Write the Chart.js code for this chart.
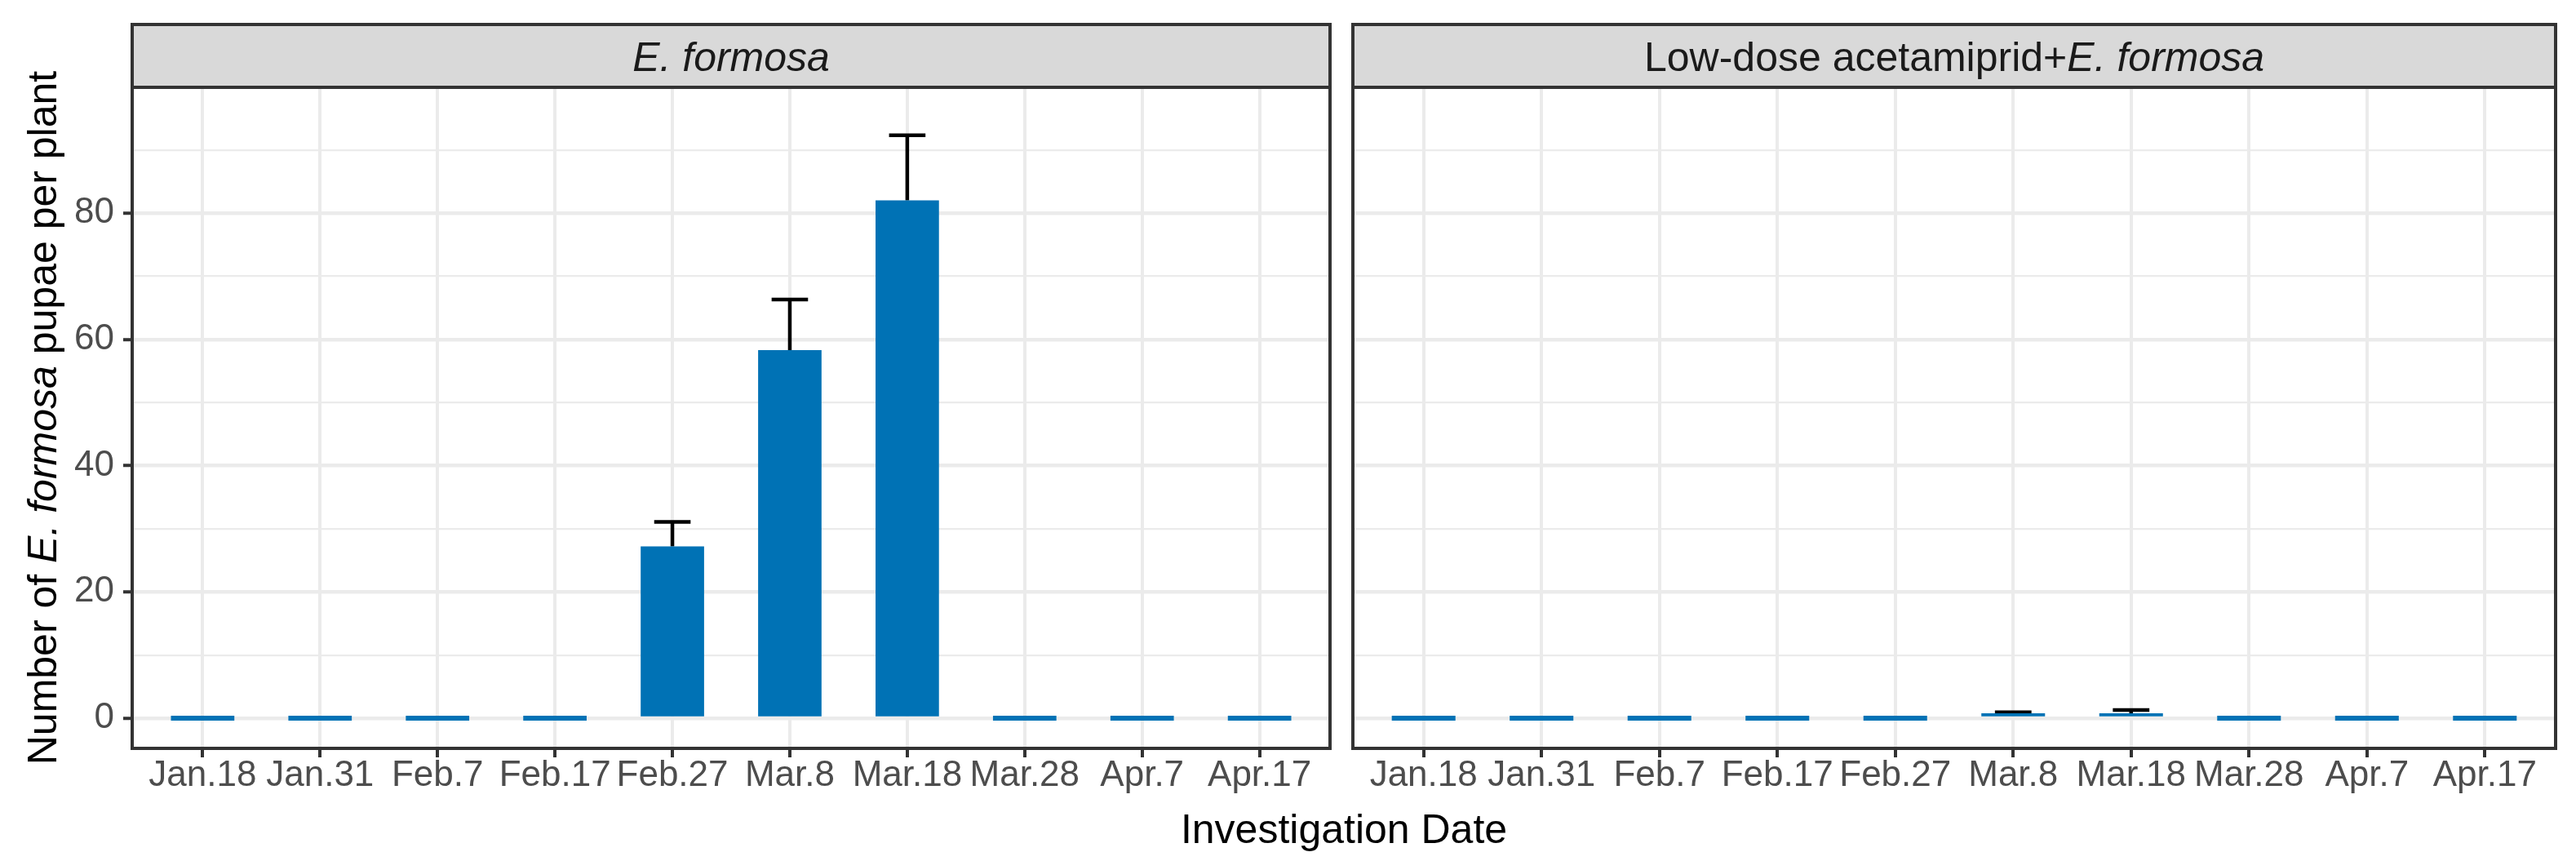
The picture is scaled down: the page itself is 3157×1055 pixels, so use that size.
<!DOCTYPE html>
<html>
<head>
<meta charset="utf-8">
<script src="https://cdn.jsdelivr.net/npm/chart.js@4/dist/chart.umd.min.js"></script>
<style>
  body { margin: 0; background: #fff; font-family: 'Liberation Sans', Arial, sans-serif; }
  #wrap { position: relative; width: 3157px; height: 1055px; overflow: hidden; }
  canvas { position: absolute; }
  .strip {
    position: absolute; top: 28px; height: 81px; box-sizing: border-box;
    border: 4px solid #333; background: #d9d9d9; color: #1a1a1a;
    font-size: 50px; line-height: 73px; text-align: center; white-space: nowrap;
  }
  .strip span { position: relative; top: 2px; }
  .ytitle {
    position: absolute; left: -448px; top: 487px; width: 1000px; height: 50px;
    font-size: 50px; line-height: 50px; text-align: center; white-space: nowrap;
    transform: rotate(-90deg); color: #000;
  }
  .xtitle {
    position: absolute; left: 162px; width: 2970px; top: 991px; height: 50px;
    font-size: 50px; line-height: 50px; text-align: center; color: #000;
  }
</style>
</head>
<body>
<div id="wrap">
  <div class="strip" style="left:160px; width:1472px;"><span><i>E. formosa</i></span></div>
  <div class="strip" style="left:1656px; width:1478px;"><span>Low-dose acetamiprid+<i>E. formosa</i></span></div>
  <canvas id="left" width="1640" height="877" style="left:0; top:100px;"></canvas>
  <canvas id="right" width="1495" height="877" style="left:1650px; top:100px;"></canvas>
  <div class="ytitle">Number of <i>E. formosa</i> pupae per plant</div>
  <div class="xtitle">Investigation Date</div>
</div>
<script>
const dates = ['Jan.18', 'Jan.31', 'Feb.7', 'Feb.17', 'Feb.27', 'Mar.8', 'Mar.18', 'Mar.28', 'Apr.7', 'Apr.17'];
const formosaMean = [0, 0, 0, 0, 27.2, 58.3, 82.0, 0, 0, 0];
const formosaSe = [0, 0, 0, 0, 3.9, 8.0, 10.3, 0, 0, 0];
const comboMean = [0, 0, 0, 0, 0, 0.4, 0.7, 0, 0, 0];
const comboSe = [0, 0, 0, 0, 0, 0.55, 0.6, 0, 0, 0];
const yMajor = [0, 20, 40, 60, 80];
const yMinor = [10, 30, 50, 70, 90];

const barColor = '#0072b5';
const gridColor = '#ebebeb';
const darkLine = '#333333';
const tickText = '#4d4d4d';

// error bars go under the bars, like the ggplot layer order
const errorBars = {
  id: 'errorBars',
  beforeDatasetsDraw(chart) {
    const { ctx, scales: { x, y } } = chart;
    const ds = chart.data.datasets[0];
    ctx.save();
    ctx.strokeStyle = '#000';
    ctx.lineWidth = 4.5;
    ds.errors.forEach((e, i) => {
      if (!e) return;
      const m = ds.data[i].y;
      const px = x.getPixelForValue(i);
      const half = x.getPixelForValue(i + 0.155) - px;
      const top = y.getPixelForValue(m + e);
      ctx.beginPath();
      ctx.moveTo(px, y.getPixelForValue(m));
      ctx.lineTo(px, top);
      ctx.moveTo(px - half, top);
      ctx.lineTo(px + half, top);
      ctx.stroke();
    });
    ctx.restore();
  }
};

const panelBorder = {
  id: 'panelBorder',
  afterDraw(chart) {
    const { ctx, chartArea: a } = chart;
    ctx.save();
    ctx.strokeStyle = darkLine;
    ctx.lineWidth = 4;
    ctx.strokeRect(a.left, a.top, a.right - a.left, a.bottom - a.top);
    ctx.restore();
  }
};

function makeChart(id, means, errs, showY) {
  const ctx = document.getElementById(id).getContext('2d');
  return new Chart(ctx, {
    type: 'bar',
    data: {
      datasets: [{
        data: means.map((v, i) => ({ x: i, y: v })),
        errors: errs,
        backgroundColor: barColor,
        borderWidth: 0,
        minBarLength: 6,
        categoryPercentage: 1,
        barPercentage: 0.54,
      }],
    },
    options: {
      responsive: false,
      animation: false,
      devicePixelRatio: 1,
      layout: { padding: showY ? { top: 7, right: 10 } : { top: 7, left: 8, right: 13 } },
      plugins: { legend: { display: false }, tooltip: { enabled: false } },
      scales: {
        x: {
          type: 'linear',
          min: -0.6,
          max: 9.6,
          offset: false,
          afterBuildTicks: (axis) => { axis.ticks = dates.map((d, i) => ({ value: i })); },
          afterFit: (axis) => {
            axis.height = 60;
            axis.paddingLeft = 0;
            axis.paddingRight = 0;
          },
          border: { display: false },
          grid: {
            offset: false,
            color: gridColor,
            lineWidth: 4,
            tickLength: 11,
            tickWidth: 4,
            tickColor: darkLine,
          },
          ticks: {
            autoSkip: false,
            maxRotation: 0,
            minRotation: 0,
            padding: 1,
            color: tickText,
            font: { family: 'Liberation Sans', size: 44, lineHeight: 1 },
            callback: (v) => dates[v],
          },
        },
        y: {
          min: -4.77,
          max: 99.9,
          afterBuildTicks: (axis) => {
            axis.ticks = yMajor.concat(yMinor).sort((a, b) => a - b).map(v => ({ value: v }));
          },
          afterFit: (axis) => {
            axis.width = showY ? 162 : 0;
            axis.paddingTop = 0;
            axis.paddingBottom = 0;
          },
          border: { display: false },
          grid: {
            color: gridColor,
            lineWidth: (c) => yMajor.includes(c.tick.value) ? 4.5 : 2.2,
            drawTicks: showY,
            tickLength: 11,
            tickWidth: 4,
            tickColor: (c) => yMajor.includes(c.tick.value) ? darkLine : 'rgba(0,0,0,0)',
          },
          ticks: {
            display: showY,
            padding: 11,
            color: tickText,
            font: { family: 'Liberation Sans', size: 44, lineHeight: 1 },
            callback: (v) => yMajor.includes(v) ? String(v) : '',
          },
        },
      },
    },
    plugins: [errorBars, panelBorder],
  });
}

makeChart('left', formosaMean, formosaSe, true);
makeChart('right', comboMean, comboSe, false);
</script>
</body>
</html>
